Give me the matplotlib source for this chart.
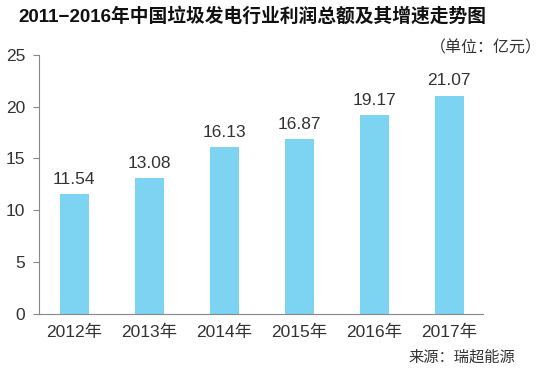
import matplotlib.pyplot as plt

plt.rcParams['font.family'] = ['Liberation Sans', 'Noto Sans CJK SC', 'DejaVu Sans']

# 数据
years = ["2012年", "2013年", "2014年", "2015年", "2016年", "2017年"]
profit = [11.54, 13.08, 16.13, 16.87, 19.17, 21.07]

fig = plt.figure(figsize=(5.48, 3.89), dpi=100)
ax = fig.add_axes([0.0712, 0.193, 0.81, 0.666])

x = range(len(years))
ax.bar(x, profit, width=0.39, color="#7dd3f2")

for i, v in zip(x, profit):
    ax.text(i, v + 0.7, f"{v:.2f}", ha="center", va="bottom",
            fontsize=12.5, color="#333333")

ax.set_xlim(-0.47, 5.45)
ax.set_ylim(0, 25)
ax.set_yticks([0, 5, 10, 15, 20, 25])
ax.set_xticks(list(x))
ax.set_xticklabels(years)

for s in ["top", "right"]:
    ax.spines[s].set_visible(False)
ax.spines["left"].set_color("#888888")
ax.spines["bottom"].set_color("#888888")
ax.tick_params(axis="y", length=4, color="#888888", labelsize=12.5,
               labelcolor="#333333", pad=6)
ax.tick_params(axis="x", length=0, labelsize=12.5, labelcolor="#333333", pad=8)

fig.text(0.46, 0.958, "2011−2016年中国垃圾发电行业利润总额及其增速走势图",
         ha="center", va="center", fontsize=13.5, fontweight="bold", color="#111111",
         family=["Liberation Sans", "Noto Sans CJK SC"])
fig.text(0.988, 0.877, "（单位：亿元）", ha="right", va="center",
         fontsize=11.5, color="#333333", family=["Noto Sans CJK SC"])
fig.text(0.94, 0.082, "来源：瑞超能源", ha="right", va="center",
         fontsize=11, color="#333333", family=["Noto Sans CJK SC"])

fig.savefig("out.png")
